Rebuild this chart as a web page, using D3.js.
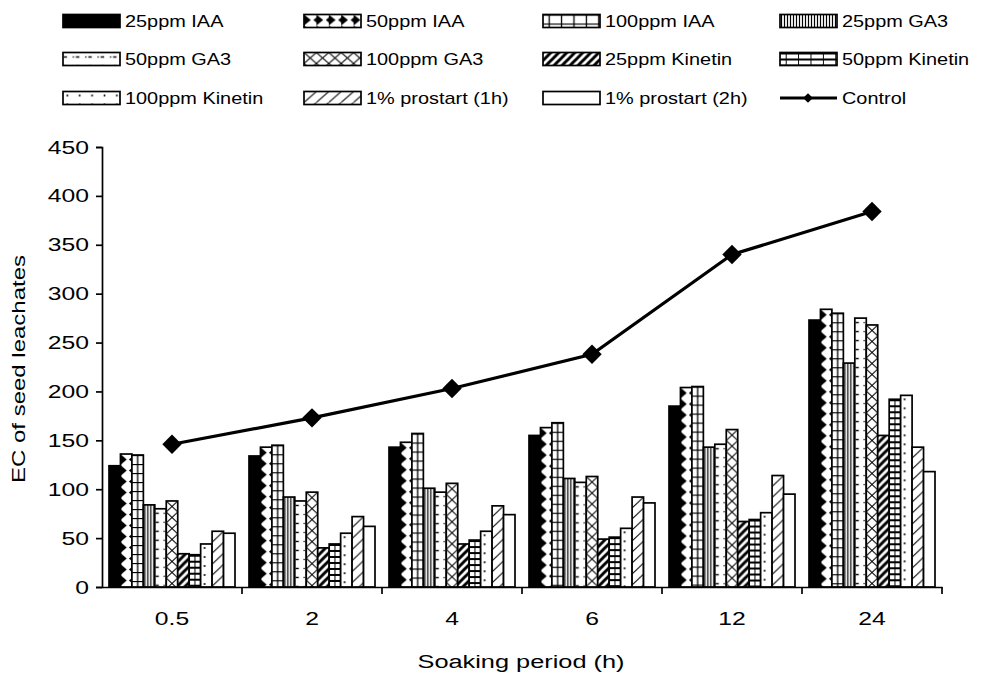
<!DOCTYPE html>
<html><head><meta charset="utf-8">
<script src="https://cdn.jsdelivr.net/npm/d3@7/dist/d3.min.js"></script>
<style>body{margin:0;background:#fff;} svg{font-family:"Liberation Sans",Arial,sans-serif;}</style>
</head><body><svg id="c" width="981" height="677"></svg>
<script>
const categories = ["0.5","2","4","6","12","24"];
const seriesNames = ["25ppm IAA","50ppm IAA","100ppm IAA","25ppm GA3","50ppm GA3","100ppm GA3","25ppm Kinetin","50ppm Kinetin","100ppm Kinetin","1% prostart (1h)","1% prostart (2h)"];
const iaa25  = [124,134,143,155,185,273];
const iaa50  = [136,143,148,163,204,284];
const iaa100 = [135,145,157,168,205,280];
const ga25   = [84,92,101,111,143,229];
const ga50   = [80,88,97,107,146,275];
const ga100  = [88,97,106,113,161,268];
const kin25  = [34,40,44,49,67,155];
const kin50  = [33,44,48,51,69,192];
const kin100 = [44,55,57,60,76,196];
const pro1h  = [57,72,83,92,114,143];
const pro2h  = [55,62,74,86,95,118];
const control = [146,173,203,238,340,384];
const yTicks = [0,50,100,150,200,250,300,350,400,450];
const seriesValues = [iaa25,iaa50,iaa100,ga25,ga50,ga100,kin25,kin50,kin100,pro1h,pro2h];

const svg = d3.select("#c");
const defs = svg.append("defs");
const y = d3.scaleLinear().domain([0,450]).range([587,147]);
const x0 = d3.scaleBand().domain(categories).range([102,942]).paddingInner(0).paddingOuter(0);
const x1 = d3.scaleBand().domain(d3.range(11)).range([7,133]);
const w = x1.bandwidth();

function stretch(sel, k){
  sel.each(function(){
    const L = this.getComputedTextLength();
    d3.select(this).attr("textLength", L*k).attr("lengthAdjust","spacingAndGlyphs");
  });
}

function makePattern(id, s, tx, ty, tw){
  const H = {1:11,2:9,3:3,4:9,5:11,6:8,7:6,8:9,9:11}[s];
  const W = {3:3,6:8}[s] || tw;
  const p = defs.append("pattern").attr("id",id).attr("patternUnits","userSpaceOnUse")
    .attr("width",W).attr("height",H).attr("patternTransform",`translate(${tx},${ty})`);
  p.append("rect").attr("width",W).attr("height",H).attr("fill","#fff");
  const ln=(a,b,c,d,sw)=>p.append("line").attr("x1",a).attr("y1",b).attr("x2",c).attr("y2",d).attr("stroke","#000").attr("stroke-width",sw||1);
  if(s===1){ p.append("polygon").attr("points",`0,0 ${W*0.55},5.5 0,11`).attr("fill","#000");
             p.append("polygon").attr("points",`${W},3 ${W-3},5.5 ${W},8`).attr("fill","#000"); }
  if(s===2){ ln(0,0.5,W,0.5,1.3); ln(W/2,0,W/2,H,1.3); }
  if(s===3){ ln(1.5,0,1.5,H,1.2); }
  if(s===4){ ln(0.5,4.5,4,4.5,1.4); p.append("circle").attr("cx",W-2).attr("cy",4.5).attr("r",0.8); }
  if(s===5){ ln(0,0,W,H,1); ln(W,0,0,H,1); }
  if(s===6){ ln(-2,10,10,-2,3); ln(6,10,10,6,3); ln(-2,2,2,-2,3); }
  if(s===7){ ln(0,1,W,1,2); ln(W/2,0,W/2,H,1); }
  if(s===8){ p.append("circle").attr("cx",W*0.35).attr("cy",4).attr("r",1); }
  if(s===9){ ln(0,H,W,0,1); }
  return `url(#${id})`;
}

// bars
categories.forEach((c,ci)=>{
  seriesValues.forEach((vals,si)=>{
    const bx = x0(c)+x1(si), v = vals[ci];
    let fill = "#fff";
    if(si===0) fill="#000";
    else if(si<10) fill = makePattern(`p${si}_${ci}`, si, bx, y(v), w);
    svg.append("rect").attr("x",bx).attr("y",y(v)).attr("width",w).attr("height",y(0)-y(v))
      .attr("fill",fill).attr("stroke","#000").attr("stroke-width",1.7);
  });
});

// axes
const gy = svg.append("g").attr("transform","translate(102,0)")
  .call(d3.axisLeft(y).tickValues(yTicks).tickSize(6).tickPadding(7));
gy.select(".domain").attr("stroke","#000").attr("stroke-width",1.7);
gy.selectAll("text").attr("font-size",19).attr("fill","#000").attr("font-family","Liberation Sans, Arial");
gy.selectAll("line").attr("stroke-width",1.7);
stretch(gy.selectAll("text"),1.3);

const gx = svg.append("g").attr("transform","translate(0,587)")
  .call(d3.axisBottom(x0).tickSize(0).tickPadding(27));
gx.select(".domain").attr("stroke","#000").attr("stroke-width",1.7);
gx.selectAll("text").attr("font-size",19).attr("fill","#000").attr("font-family","Liberation Sans, Arial").attr("dy","0.6em");
stretch(gx.selectAll("text"),1.3);
categories.forEach(c=>{
  svg.append("line").attr("x1",x0(c)+x0.bandwidth()).attr("x2",x0(c)+x0.bandwidth())
    .attr("y1",587).attr("y2",594).attr("stroke","#000").attr("stroke-width",1.7);
});

// control line
const cx = c => x0(c)+x0.bandwidth()/2;
svg.append("path").datum(control)
  .attr("d", d3.line().x((d,i)=>cx(categories[i])).y(d=>y(d)))
  .attr("fill","none").attr("stroke","#000").attr("stroke-width",3.2);
const diamond = d3.symbol().type(d3.symbolDiamond2).size(240);
svg.selectAll(".mk").data(control).join("path")
  .attr("d",diamond).attr("transform",(d,i)=>`translate(${cx(categories[i])},${y(d)})`).attr("fill","#000");

// titles
const xt = svg.append("text").attr("x",521).attr("y",668).attr("text-anchor","middle").attr("font-size",18).text("Soaking period (h)");
xt.attr("textLength",207).attr("lengthAdjust","spacingAndGlyphs");
const yt = svg.append("text").attr("transform","translate(25,369) rotate(-90)").attr("text-anchor","middle").attr("font-size",18).text("EC of seed leachates");
yt.attr("textLength",228).attr("lengthAdjust","spacingAndGlyphs");

// legend
const colX = [63,304,543,780], rowY = [21,59,98];
const items = seriesNames.map((n,i)=>({name:n, s:i})).concat([{name:"Control", s:-1}]);
items.forEach((it,i)=>{
  const lx = colX[i%4], ly = rowY[Math.floor(i/4)];
  if(it.s>=0){
    let fill = "#fff";
    if(it.s===0) fill="#000";
    else if(it.s<10) fill = makePattern(`lg${it.s}`, it.s, lx, ly-6.5, 57/4.6);
    svg.append("rect").attr("x",lx).attr("y",ly-6.5).attr("width",57).attr("height",13)
      .attr("fill",fill).attr("stroke","#000").attr("stroke-width",1.7);
  } else {
    svg.append("line").attr("x1",lx).attr("x2",lx+57).attr("y1",ly).attr("y2",ly).attr("stroke","#000").attr("stroke-width",3);
    svg.append("path").attr("d",d3.symbol().type(d3.symbolDiamond2).size(60)).attr("transform",`translate(${lx+28},${ly})`);
  }
  const t = svg.append("text").attr("x",lx+62).attr("y",ly+6).attr("font-size",17).text(it.name);
  stretch(t,1.17);
});
</script></body></html>
